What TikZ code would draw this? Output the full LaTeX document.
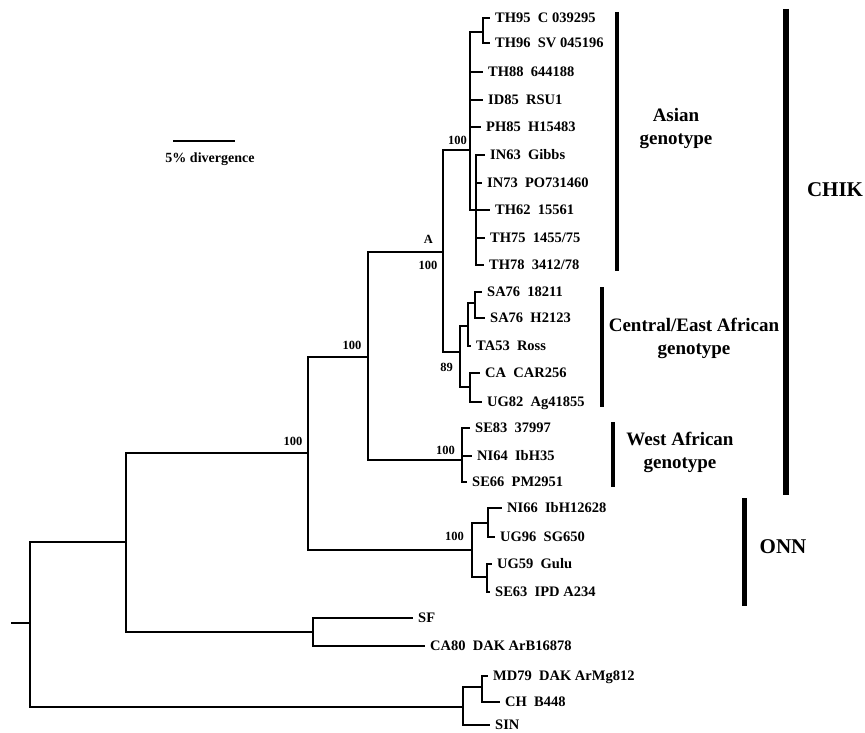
\documentclass[tikz,border=0pt]{standalone}
\usepackage{fontspec}
\setmainfont{Liberation Serif}
\usetikzlibrary{positioning}

\begin{document}
\begin{tikzpicture}[
    x=1pt, y=-1pt, node distance=5pt,
    branch/.style={line width=2.1pt},
    taxon/.style={font=\fontsize{14.5}{16}\selectfont\bfseries, inner sep=0pt, text height=9.5pt, text depth=0pt},
    boot/.style={font=\fontsize{12.5}{14}\selectfont\bfseries, inner sep=0pt},
    cladebar/.style={line width=4.2pt},
    cladename/.style={font=\fontsize{19}{23}\selectfont\bfseries, align=center},
    bigname/.style={font=\fontsize{21}{24}\selectfont\bfseries}
]
\useasboundingbox (0,0) rectangle (865,733);

% Inner nodes of the tree
\coordinate (stub) at (11,623);
\coordinate (root) at (30,623);
\coordinate (n1) at (126,542);
\coordinate (n2) at (308,453);
\coordinate (chik) at (368,357);
\coordinate (A) at (443,252);
\coordinate (asian) at (470,150);
\coordinate (th9x) at (483,32);
\coordinate (asian2) at (476,210);
\coordinate (ce) at (460,352);
\coordinate (ce1) at (468,326);
\coordinate (sa) at (475,303);
\coordinate (ce2) at (470,387);
\coordinate (wa) at (462,460);
\coordinate (onn) at (472,550);
\coordinate (onn1) at (488,523);
\coordinate (onn2) at (487,577);
\coordinate (sf) at (313,632);
\coordinate (out) at (463,707);
\coordinate (out1) at (482,687);

% Tips and their labels
\coordinate (t1) at (490,18);   \node[taxon, right=of t1] (TH95) {TH95~~C 039295};
\coordinate (t2) at (490,43);   \node[taxon, right=of t2] (TH96) {TH96~~SV 045196};
\coordinate (t3) at (483,72);   \node[taxon, right=of t3] (TH88) {TH88~~644188};
\coordinate (t4) at (483,100);  \node[taxon, right=of t4] (ID85) {ID85~~RSU1};
\coordinate (t5) at (481,127);  \node[taxon, right=of t5] (PH85) {PH85~~H15483};
\coordinate (t6) at (485,155);  \node[taxon, right=of t6] (IN63) {IN63~~Gibbs};
\coordinate (t7) at (482,183);  \node[taxon, right=of t7] (IN73) {IN73~~PO731460};
\coordinate (t8) at (490,210);  \node[taxon, right=of t8] (TH62) {TH62~~15561};
\coordinate (t9) at (485,238);  \node[taxon, right=of t9] (TH75) {TH75~~1455/75};
\coordinate (t10) at (484,265); \node[taxon, right=of t10] (TH78) {TH78~~3412/78};
\coordinate (t11) at (482,292); \node[taxon, right=of t11] (SA76a) {SA76~~18211};
\coordinate (t12) at (485,318); \node[taxon, right=of t12] (SA76b) {SA76~~H2123};
\coordinate (t13) at (471,346); \node[taxon, right=of t13] (TA53) {TA53~~Ross};
\coordinate (t14) at (480,373); \node[taxon, right=of t14] (CA) {CA~~CAR256};
\coordinate (t15) at (482,402); \node[taxon, right=of t15] (UG82) {UG82~~Ag41855};
\coordinate (t16) at (470,428); \node[taxon, right=of t16] (SE83) {SE83~~37997};
\coordinate (t17) at (472,456); \node[taxon, right=of t17] (NI64) {NI64~~IbH35};
\coordinate (t18) at (467,482); \node[taxon, right=of t18] (SE66) {SE66~~PM2951};
\coordinate (t19) at (502,508); \node[taxon, right=of t19] (NI66) {NI66~~IbH12628};
\coordinate (t20) at (495,537); \node[taxon, right=of t20] (UG96) {UG96~~SG650};
\coordinate (t21) at (492,564); \node[taxon, right=of t21] (UG59) {UG59~~Gulu};
\coordinate (t22) at (490,592); \node[taxon, right=of t22] (SE63) {SE63~~IPD A234};
\coordinate (t23) at (413,618); \node[taxon, right=of t23] (SF) {SF};
\coordinate (t24) at (425,646); \node[taxon, right=of t24] (CA80) {CA80~~DAK ArB16878};
\coordinate (t25) at (488,676); \node[taxon, right=of t25] (MD79) {MD79~~DAK ArMg812};
\coordinate (t26) at (500,702); \node[taxon, right=of t26] (CH) {CH~~B448};
\coordinate (t27) at (490,725); \node[taxon, right=of t27] (SIN) {SIN};

% Branches
\draw[branch] (stub) -- (root);
\draw[branch] (root) |- (n1);
\draw[branch] (root) |- (out);
\draw[branch] (n1) |- (n2);
\draw[branch] (n1) |- (sf);
\draw[branch] (n2) |- (chik);
\draw[branch] (n2) |- (onn);
\draw[branch] (chik) |- (A);
\draw[branch] (chik) |- (wa);
\draw[branch] (A) |- (asian);
\draw[branch] (A) |- (ce);
\draw[branch] (asian) |- (th9x);
\draw[branch] (th9x) |- (t1);
\draw[branch] (th9x) |- (t2);
\draw[branch] (asian) |- (t3);
\draw[branch] (asian) |- (t4);
\draw[branch] (asian) |- (t5);
\draw[branch] (asian) |- (asian2);
\draw[branch] (asian2) |- (t6);
\draw[branch] (asian2) |- (t7);
\draw[branch] (asian2) |- (t8);
\draw[branch] (asian2) |- (t9);
\draw[branch] (asian2) |- (t10);
\draw[branch] (ce) |- (ce1);
\draw[branch] (ce) |- (ce2);
\draw[branch] (ce1) |- (sa);
\draw[branch] (sa) |- (t11);
\draw[branch] (sa) |- (t12);
\draw[branch] (ce1) |- (t13);
\draw[branch] (ce2) |- (t14);
\draw[branch] (ce2) |- (t15);
\draw[branch] (wa) |- (t16);
\draw[branch] (wa) |- (t17);
\draw[branch] (wa) |- (t18);
\draw[branch] (onn) |- (onn1);
\draw[branch] (onn) |- (onn2);
\draw[branch] (onn1) |- (t19);
\draw[branch] (onn1) |- (t20);
\draw[branch] (onn2) |- (t21);
\draw[branch] (onn2) |- (t22);
\draw[branch] (sf) |- (t23);
\draw[branch] (sf) |- (t24);
\draw[branch] (out) |- (out1);
\draw[branch] (out1) |- (t25);
\draw[branch] (out1) |- (t26);
\draw[branch] (out) |- (t27);

% Bootstrap values
\node[boot, above left=7.5pt and 5.5pt of n2] (bs1) {100};
\node[boot, above left=7.5pt and 6.5pt of chik] (bs2) {100};
\node[boot, above left=8pt and 10pt of A] (labA) {A};
\node[boot, below left=8.5pt and 5.5pt of A] (bs3) {100};
\node[boot, below left=11pt and 7pt of ce] (bs4) {89};
\node[boot, above left=5.5pt and 3pt of asian] (bs5) {100};
\node[boot, above left=5.5pt and 7pt of wa] (bs6) {100};
\node[boot, above left=9.5pt and 8pt of onn] (bs7) {100};

% Scale bar
\coordinate (sbL) at (173,141);
\coordinate (sbR) at (235,141);
\draw[branch] (sbL) -- (sbR);
\node[taxon, font=\fontsize{14}{16}\selectfont\bfseries] (sblbl) at (210,158) {5\% divergence};

% Clade bars
\coordinate (asianT) at (617,12);  \coordinate (asianB) at (617,271);
\coordinate (ceT) at (602,287);    \coordinate (ceB) at (602,407);
\coordinate (waT) at (613,422);    \coordinate (waB) at (613,487);
\coordinate (chikT) at (786,9);    \coordinate (chikB) at (786,495);
\coordinate (onnT) at (744,498);   \coordinate (onnB) at (744,606);
\draw[cladebar] (asianT) -- (asianB);
\draw[cladebar] (ceT) -- (ceB);
\draw[cladebar] (waT) -- (waB);
\draw[cladebar, line width=5.5pt] (chikT) -- (chikB);
\draw[cladebar, line width=5pt] (onnT) -- (onnB);

\node[cladename] (asianlbl) at (676,129) {Asian\\genotype};
\node[cladename] (celbl) at (694,338) {Central/East African\\genotype};
\node[cladename] (walbl) at (680,452) {West African\\genotype};
\node[bigname] (chiklbl) at (835,190) {CHIK};
\node[bigname] (onnlbl) at (783,547) {ONN};

\end{tikzpicture}
\end{document}
